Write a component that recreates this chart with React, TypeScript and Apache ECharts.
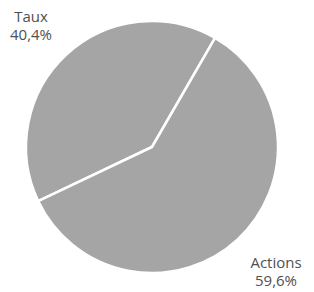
import React, { useEffect, useRef } from "react";
import * as echarts from "echarts";

const categories = ["Taux", "Actions"];
const values = [40.4, 59.6];

const labelPos: [number, number][] = [
  [31, 25],
  [276, 271],
];

export default function App() {
  const ref = useRef<HTMLDivElement>(null);
  useEffect(() => {
    document.body.style.margin = "0";
    document.body.style.overflow = "hidden";
    document.documentElement.style.overflow = "hidden";
    if (!ref.current) return;
    const chart = echarts.init(ref.current, undefined, { renderer: "svg" });
    chart.setOption({
      animation: false,
      backgroundColor: "#ffffff",
      series: [
        {
          type: "pie",
          center: [152, 147],
          radius: [0, 126],
          startAngle: 205.4,
          clockwise: true,
          avoidLabelOverlap: false,
          data: categories.map((c, i) => ({ name: c, value: values[i] })),
          itemStyle: { color: "#a5a5a5", borderColor: "#ffffff", borderWidth: 2.5 },
          label: {
            show: true,
            position: "outside",
            formatter: (p: any) => `${p.name}\n${String(p.value.toFixed(1)).split(".").join(",")}%`,
            color: "#505050",
            fontFamily: "Open Sans",
            fontSize: 15,
            lineHeight: 18,
            align: "center",
            overflow: "none",
            width: 80,
          },
          labelLine: { show: false },
          labelLayout: (params: any) => ({
            x: labelPos[params.dataIndex][0],
            y: labelPos[params.dataIndex][1],
            align: "center",
            verticalAlign: "middle",
          }),
          emphasis: { disabled: true },
        },
      ],
    });
    return () => chart.dispose();
  }, []);
  return <div ref={ref} style={{ width: 314, height: 292 }} />;
}
